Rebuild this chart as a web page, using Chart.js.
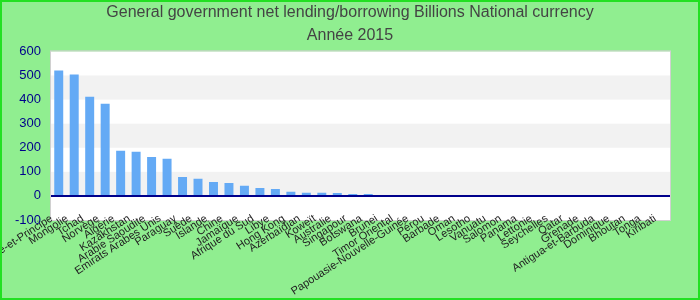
<!DOCTYPE html>
<html><head><meta charset="utf-8">
<script src="https://cdn.jsdelivr.net/npm/chart.js@4"></script>
<style>html,body{margin:0;padding:0;background:#90ee90;}#wrap{width:700px;height:300px;position:relative;}</style>
</head><body><div id="wrap"><canvas id="c" width="700" height="300"></canvas></div>
<script>
const categories = ["Sao Tomé-et-Principe","Mongolie","Tchad","Norvège","Algérie","Kazakhstan","Arabie Saoudite","Emirats Arabes Unis","Paraguay","Suède","Islande","Chine","Jamaïque","Afrique du Sud","Libye","Hong Kong","Azerbaïdjan","Koweït","Australie","Singapour","Botswana","Brunei","Timor Oriental","Papouasie-Nouvelle-Guinée","Pérou","Barbade","Oman","Lesotho","Vanuatu","Salomon","Panama","Lettonie","Seychelles","Qatar","Grenade","Antigua-et-Barbuda","Dominique","Bhoutan","Tonga","Kiribati"];
const values = [521,504,412,383,187,183,162,154,79,71,58,54,42,33,29,17,13,13,12,8,8,4,1.5,1,0.5,0.4,0.3,0.3,0.2,0.2,0.2,0.2,0.1,0.1,0.1,0.1,0.1,0.1,0.1,0.1];
const yTicks = [-100,0,100,200,300,400,500,600];
const titleLines = ["General government net lending/borrowing Billions National currency","Année 2015"];

const bgPlugin = {
  id:'bg',
  beforeDraw(chart){
    const {ctx, chartArea:a, scales:{y}} = chart;
    ctx.save();
    ctx.fillStyle='#90ee90';
    ctx.fillRect(0,0,chart.width,chart.height);
    ctx.fillStyle='#ffffff';
    ctx.fillRect(a.left,a.top,a.right-a.left,a.bottom-a.top);
    ctx.fillStyle='#f2f2f2';
    for(const v of [0,200,400]){
      const t=y.getPixelForValue(v+100), b=y.getPixelForValue(v);
      ctx.fillRect(a.left,t,a.right-a.left,b-t);
    }
    ctx.strokeStyle='#d0d0d0';ctx.lineWidth=1;
    ctx.strokeRect(a.left-0.5,a.top-0.5,a.right-a.left+1,a.bottom-a.top+1);
    ctx.restore();
  },
  afterDatasetsDraw(chart){
    const {ctx, chartArea:a, scales:{y}} = chart;
    const z=y.getPixelForValue(0);
    ctx.save();ctx.strokeStyle='#00008b';ctx.lineWidth=2;
    ctx.beginPath();ctx.moveTo(a.left,z);ctx.lineTo(a.right,z);ctx.stroke();ctx.restore();
  },
  afterDraw(chart){
    const ctx=chart.ctx;ctx.save();ctx.strokeStyle='#22e022';ctx.lineWidth=2;
    ctx.strokeRect(1,1,chart.width-2,chart.height-2);ctx.restore();
  }
};

new Chart(document.getElementById('c'),{
  type:'bar',
  data:{labels:categories,datasets:[{data:values,backgroundColor:'#64aaf5',categoryPercentage:1,barPercentage:0.58}]},
  options:{
    responsive:false,animation:false,
    layout:{padding:0},
    plugins:{
      legend:{display:false},tooltip:{enabled:false},
      title:{display:true,text:titleLines,color:'#444444',font:{family:'Liberation Sans, Arial, sans-serif',size:16,weight:'normal',lineHeight:1.45},padding:{top:1,bottom:4}}
    },
    scales:{
      x:{grid:{display:false},border:{display:false},
        afterFit(s){s.height=80;s.paddingLeft=0;s.paddingRight=30;
          s._computeLabelArea=function(){return {top:0,left:0,bottom:this.chart.height,right:this.chart.width};};},
        ticks:{autoSkip:false,maxRotation:33,minRotation:33,padding:-16,labelOffset:-7,color:'#222222',font:{family:'Liberation Sans, Arial, sans-serif',size:11}}},
      y:{min:-100,max:600,grid:{display:false,drawTicks:false},border:{display:false},
        afterFit(s){s.width=51;},
        afterBuildTicks(s){s.ticks=yTicks.map(v=>({value:v}));},
        ticks:{padding:10,color:'#00008b',font:{family:'Liberation Sans, Arial, sans-serif',size:13}}}
    }
  },
  plugins:[bgPlugin]
});
</script></body></html>
